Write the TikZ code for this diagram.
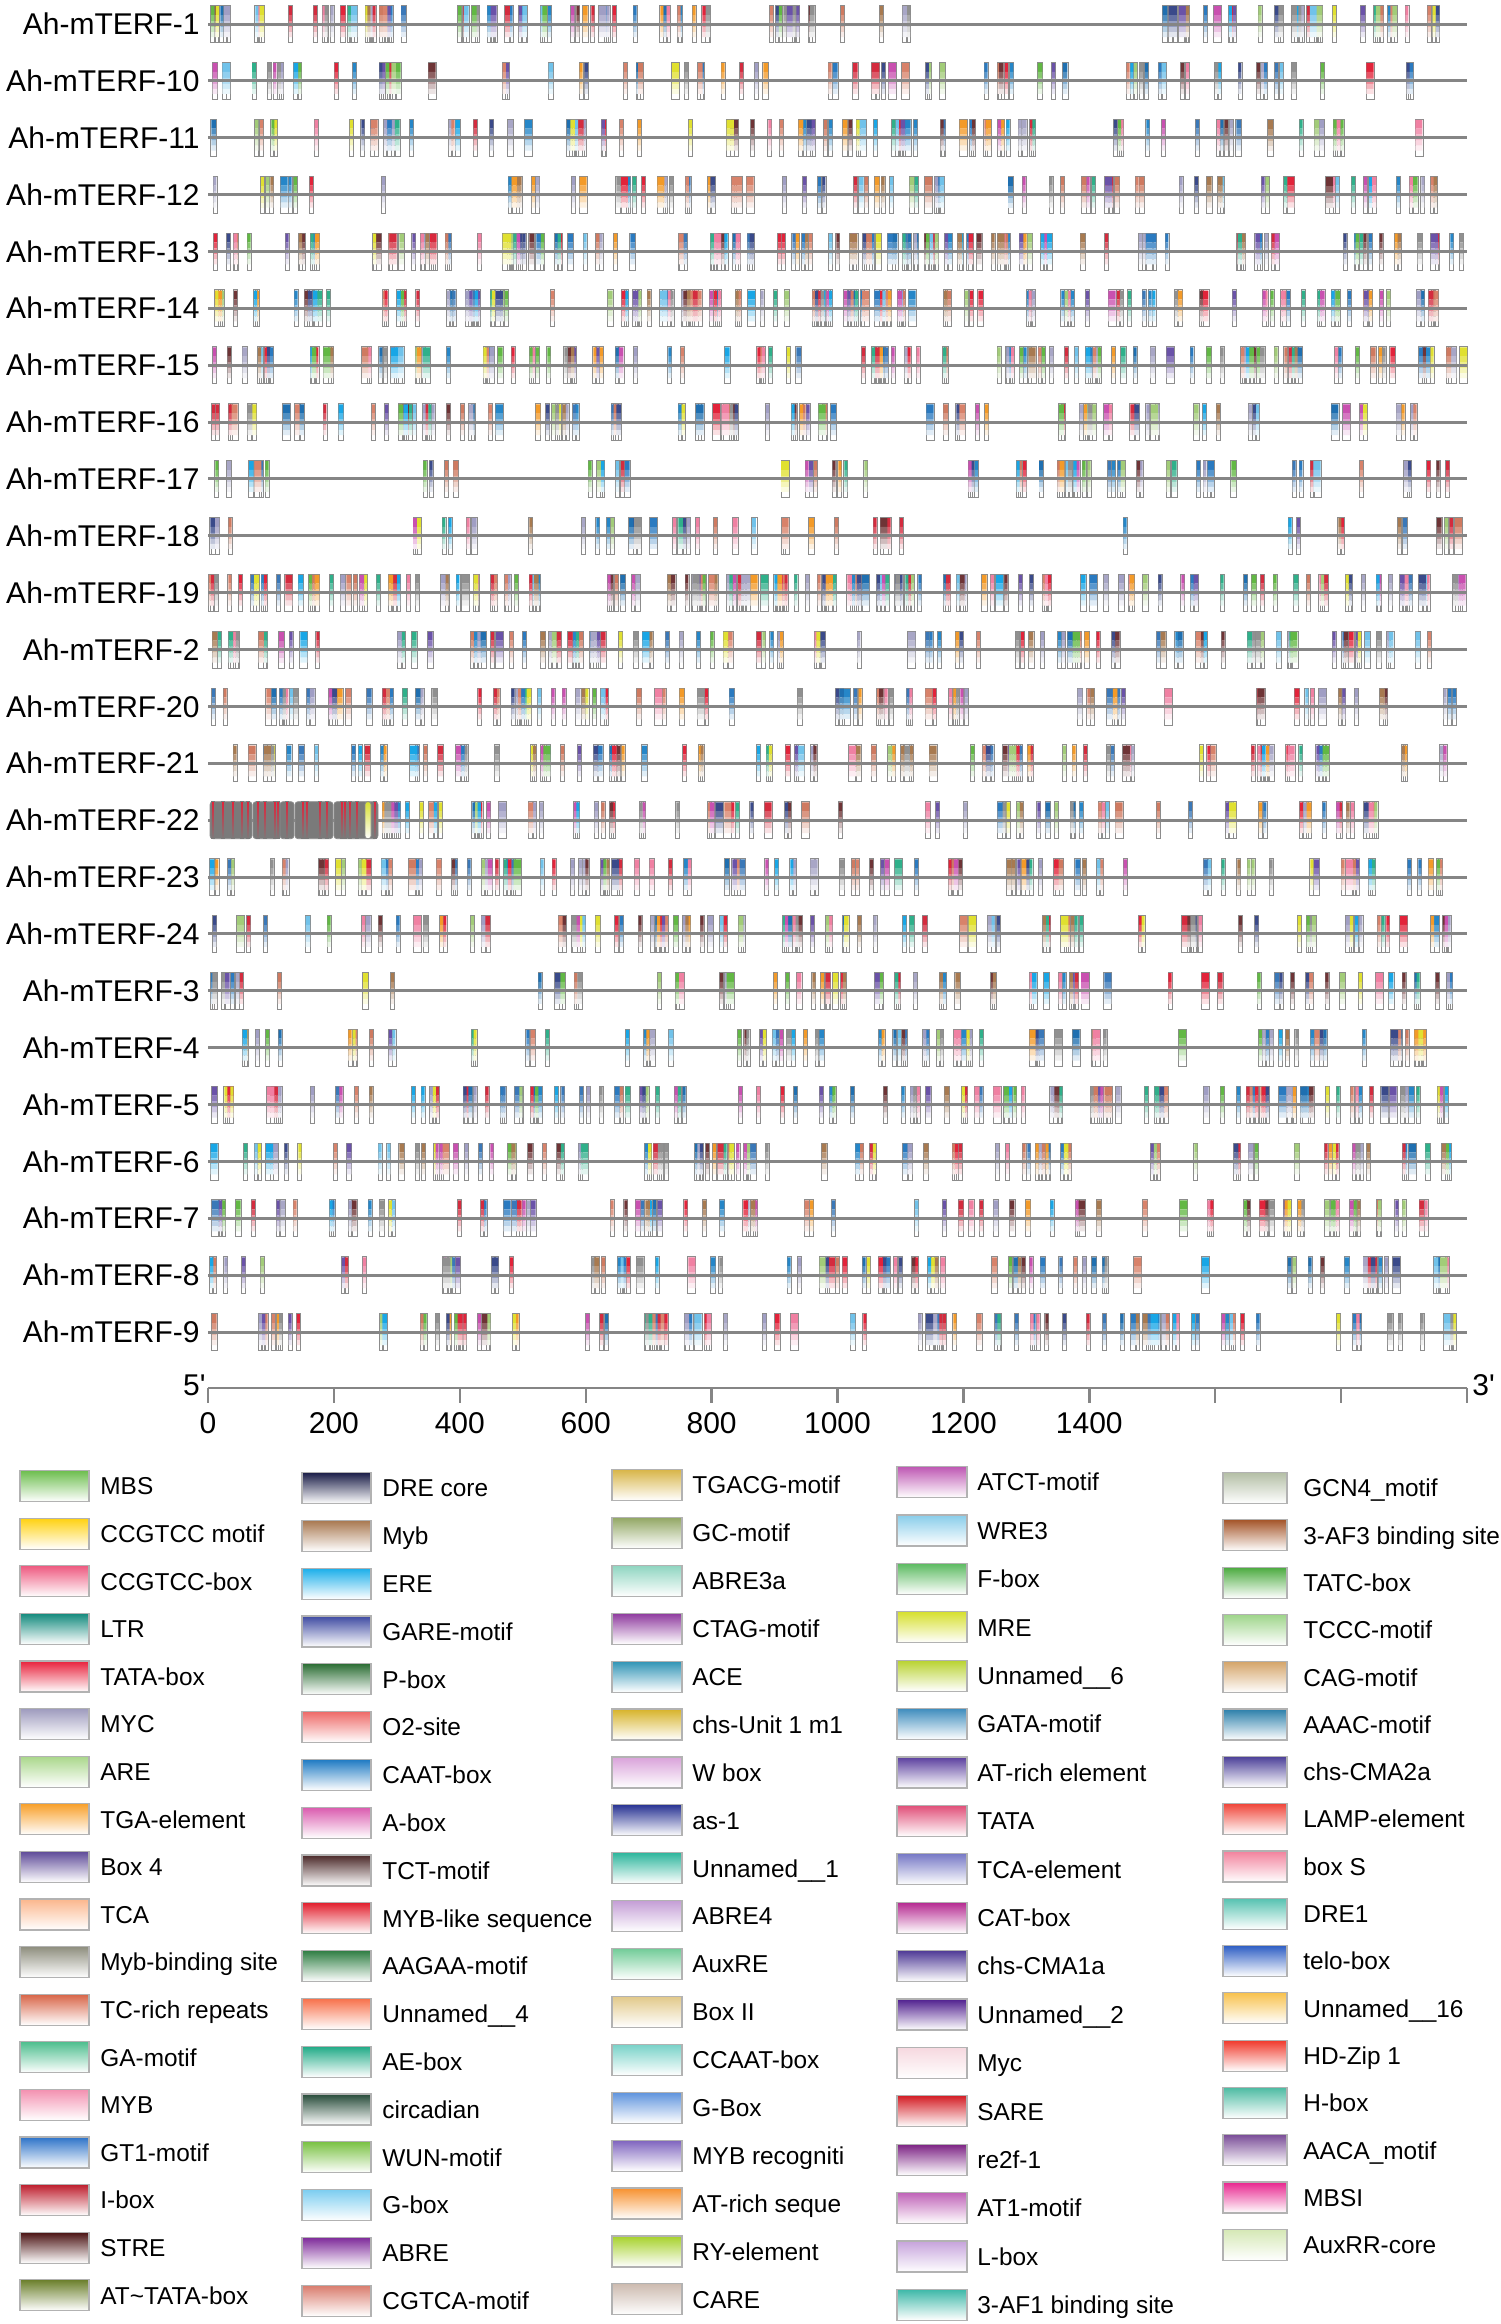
\documentclass[tikz,border=0pt]{standalone}
\usepackage{fontspec}
\setmainfont{Liberation Sans}
\definecolor{linegray}{HTML}{858585}
\definecolor{pillgray}{HTML}{8C8C8C}
\definecolor{blockgray}{HTML}{7A7A7A}
\definecolor{pc1}{HTML}{2A7AC0}
\definecolor{pc2}{HTML}{2586C8}
\definecolor{pc3}{HTML}{3A78B8}
\definecolor{pc4}{HTML}{1F6FB0}
\definecolor{pc5}{HTML}{A09EC4}
\definecolor{pc6}{HTML}{A8A6C6}
\definecolor{pc7}{HTML}{CF7A60}
\definecolor{pc8}{HTML}{D8826A}
\definecolor{pc9}{HTML}{E2233A}
\definecolor{pc10}{HTML}{D42B3E}
\definecolor{pc11}{HTML}{F080A2}
\definecolor{pc12}{HTML}{70C2EA}
\definecolor{pc13}{HTML}{6E3436}
\definecolor{pc14}{HTML}{2FB08A}
\definecolor{pc15}{HTML}{6A52A8}
\definecolor{pc16}{HTML}{A2CC78}
\definecolor{pc17}{HTML}{F39A28}
\definecolor{pc18}{HTML}{E0E030}
\definecolor{pc19}{HTML}{3A4A8A}
\definecolor{pc20}{HTML}{C950B0}
\definecolor{pc21}{HTML}{18A6E6}
\definecolor{pc22}{HTML}{909090}
\definecolor{pc23}{HTML}{A87A50}
\definecolor{pc24}{HTML}{62B844}
\definecolor{blkred}{HTML}{E2233A}
\definecolor{blkyel}{HTML}{D8E030}
\begin{document}
\begin{tikzpicture}[x=0.5pt,y=-0.5pt,
  lab/.style={font=\fontsize{15}{17}\selectfont, inner sep=0pt},
  leg/.style={font=\fontsize{12.2}{14}\selectfont, inner sep=0pt},
  trackline/.style={draw=linegray, line width=1.5pt},
  axisline/.style={draw=linegray, line width=1.2pt},
  pill/.style={draw=pillgray, line width=0.4pt},
  swatch/.style={draw=black!30, line width=0.6pt},
]
\useasboundingbox[fill=white] (0,0) rectangle (1500,2324);
\pgfmathsetseed{4242}
% ---------------- tracks ----------------
\foreach \nm/\f/\gaps [count=\k from 0] in {
  1/0.55/{965/1165},
  10/0.85/{440/505,775/830},
  11/0.75/{0/0},
  12/0.85/{400/510},
  13/0.6/{0/0},
  14/0.6/{0/0},
  15/0.7/{0/0},
  16/0.7/{620/680,845/930},
  17/1.05/{290/425,520/590,750/785,870/970},
  18/1.05/{250/415,850/875,905/1125,1230/1290},
  19/0.6/{0/0},
  2/0.75/{330/400},
  20/0.8/{745/800,975/1080},
  21/0.7/{209/235},
  22/0.75/{209/384},
  23/0.75/{0/0},
  24/0.75/{0/0},
  3/0.75/{440/540,1110/1170},
  4/0.75/{209/245,290/350},
  5/0.75/{0/0},
  6/0.7/{0/0},
  7/0.75/{0/0},
  8/0.75/{0/0},
  9/0.7/{875/920}} {
  \pgfmathsetmacro\ty{24+56.87*\k}
  \gdef\allL{}%
  \foreach \c in {1,...,24} {\expandafter\gdef\csname L@\c\endcsname{}}%
  \pgfmathsetmacro\sx{211+rnd*6}\xdef\curx{\sx}
  \loop
    \foreach \ga/\gb in \gaps {%
      \ifdim\curx pt>\ga pt\relax\ifdim\curx pt<\gb pt\relax\xdef\curx{\gb}\fi\fi}%
    \ifdim\curx pt<1464pt\relax
      \pgfmathsetmacro\w{rnd<0.65 ? 4 : (rnd<0.65 ? 5.5 : 8)}%
      \pgfmathtruncatemacro\ci{random(1,24)}%
      \pgfmathsetmacro\xa{\curx-\w/2}%
      \pgfmathsetmacro\xb{\curx+\w/2}%
      \ifx\allL\empty\xdef\allL{\xa/\xb}\else\xdef\allL{\allL,\xa/\xb}\fi
      \expandafter\let\expandafter\tmpL\csname L@\ci\endcsname
      \ifx\tmpL\empty
        \expandafter\xdef\csname L@\ci\endcsname{\xa/\xb}%
      \else
        \expandafter\xdef\csname L@\ci\endcsname{\tmpL,\xa/\xb}%
      \fi
    \fi
    \pgfmathsetmacro\r{rnd}%
    \pgfmathsetmacro\st{\f*(\r<0.45 ? 2+rnd*5 : (\r<0.85 ? 8+rnd*18 : (\r<0.97 ? 28+rnd*30 : 60+rnd*60)))}%
    \pgfmathsetmacro\nx{\curx+\st}\xdef\curx{\nx}%
  \ifdim\curx pt<1464pt\relax
  \repeat
  \filldraw[pill, fill=white] \foreach \a/\b in \allL {(\a,\ty-18.5) rectangle (\b,\ty+18.5)};
  \foreach \c in {1,...,24} {%
    \expandafter\let\expandafter\tmpL\csname L@\c\endcsname
    \ifx\tmpL\empty\else
      \fill[pc\c] \foreach \a/\b in \tmpL {(\a+0.45,\ty-17.8) rectangle (\b-0.45,\ty-9)};
      \fill[pc\c!78!white] \foreach \a/\b in \tmpL {(\a+0.45,\ty-9) rectangle (\b-0.45,\ty-3)};
      \fill[pc\c!55!white] \foreach \a/\b in \tmpL {(\a+0.45,\ty-3) rectangle (\b-0.45,\ty+3)};
      \fill[pc\c!33!white] \foreach \a/\b in \tmpL {(\a+0.45,\ty+3) rectangle (\b-0.45,\ty+8)};
      \fill[pc\c!14!white] \foreach \a/\b in \tmpL {(\a+0.45,\ty+8) rectangle (\b-0.45,\ty+13)};
    \fi
  }
  \draw[trackline] (208,\ty) -- (1467,\ty);
  \node[lab, anchor=base east] (t\k) at (200,\ty+10.6) {Ah-mTERF-\nm};
}
% ---------------- block on Ah-mTERF-22 ----------------
\pgfmathsetmacro\by{24+56.87*14}
\foreach \a/\b in {210/252,253/279,280/294,295/333,334/378}
  \draw[pill, fill=blockgray, rounded corners=1.5pt] (\a,\by-18.5) rectangle (\b,\by+18.5);
\foreach \xx in {213,223,233,242,248,258,265,275,278,287,303,307,320,327,342,345,350,357,375}
  \shadedraw[draw=blockgray, line width=0.3pt, top color=blkred, bottom color=blockgray] (\xx-1.5,\by-18.5) rectangle (\xx+1.5,\by+18.5);
\shadedraw[pill, top color=blkyel, bottom color=white, rounded corners=1.3pt] (365,\by-18.5) rectangle (371,\by+18.5);
\draw[trackline] (208,\by) -- (210,\by);
% ---------------- axis ----------------
\draw[axisline] (208,1388) -- (1467,1388);
\foreach \i in {0,...,10}
  \draw[axisline] (208+125.9*\i,1388) -- (208+125.9*\i,1403);
\foreach \v [count=\i from 0] in {0,200,400,600,800,1000,1200,1400}
  \node[lab, anchor=base] (ax\i) at (208+125.9*\i,1433) {\v};
\node[lab, anchor=base east] (five) at (206,1395) {5\textquotesingle};
\node[lab, anchor=base west] (three) at (1472,1395) {3\textquotesingle};
% ---------------- legend ----------------
\foreach \sxl/\swd/\yz/\dy/\items [count=\c] in {
  20/69/1486/47.6/{MBS/6DBE4E, CCGTCC motif/FFD10F, CCGTCC-box/EE5A80, LTR/138A7D, TATA-box/E8213B, MYC/9E9BBE, ARE/A9D78A, TGA-element/F8A02A, Box 4/5E4A98, TCA/FBB68C, Myb-binding site/8E8E7E, TC-rich repeats/D86446, GA-motif/4DBE8E, MYB/F390B0, GT1-motif/2C72C8, I-box/BE1E2D, STRE/4A1212, AT\textasciitilde TATA-box/6B7F2B},
  302/69/1488/47.8/{DRE core/1B1E48, Myb/A87850, ERE/1AAEEA, GARE-motif/3E4AA2, P-box/2C6E35, O2-site/EE6A68, CAAT-box/1E7AC3, A-box/DA5AAE, TCT-motif/4A2828, MYB-like sequence/E2202E, AAGAA-motif/2F7E43, Unnamed\_\_4/F8704A, AE-box/1FAA86, circadian/254A38, WUN-motif/7AC143, G-box/7CCDF0, ABRE/7E2A9A, CGTCA-motif/D97B6C},
  612/70/1485/47.9/{TGACG-motif/D8B548, GC-motif/92A764, ABRE3a/8ED5C0, CTAG-motif/8E3A9E, ACE/2E93B5, chs-Unit 1 m1/D7B329, W box/D9A2DA, as-1/2A3594, Unnamed\_\_1/2EB69D, ABRE4/C49ED6, AuxRE/72CC98, Box II/E2C98A, CCAAT-box/78D2C8, G-Box/5E93DD, MYB recogniti/7E63BE, AT-rich seque/F7912F, RY-element/A6D12A, CARE/CDBBB0},
  897/70/1482/48.4/{ATCT-motif/BE57B3, WRE3/88CDEA, F-box/5BBA60, MRE/D6E02E, Unnamed\_\_6/B8D22E, GATA-motif/3F8DBE, AT-rich element/5A3E9E, TATA/E04E78, TCA-element/7779C6, CAT-box/B52890, chs-CMA1a/4F3A96, Unnamed\_\_2/4F1E8E, Myc/F6D8DF, SARE/D41F26, re2f-1/7C2284, AT1-motif/C063B8, L-box/C6A3DC, 3-AF1 binding site/3DB8A8},
  1223/64/1488/47.3/{GCN4\_motif/B4BFA6, 3-AF3 binding site/A5562A, TATC-box/4AAA3E, TCCC-motif/9ED58A, CAG-motif/D5A56A, AAAC-motif/2B7FAA, chs-CMA2a/4B3F98, LAMP-element/F0463A, box S/F2819C, DRE1/55C2B0, telo-box/2E5EC4, Unnamed\_\_16/F8C24E, HD-Zip 1/F0382A, H-box/4DBBA2, AACA\_motif/7B4E98, MBSI/E8258E, AuxRR-core/D5E8B5}} {
  \foreach \lab/\hex [count=\i from 0] in \items {
    \definecolor{tmpc}{HTML}{\hex}
    \pgfmathsetmacro\cy{\yz+\dy*\i}
    \shadedraw[swatch, top color=tmpc, bottom color=white] (\sxl,\cy-15.5) rectangle (\sxl+\swd,\cy+15.5);
    \node[leg, anchor=base west] (lg\c-\i) at (\sxl+80,\cy+8.8) {\lab};
  }
}
\end{tikzpicture}
\end{document}
